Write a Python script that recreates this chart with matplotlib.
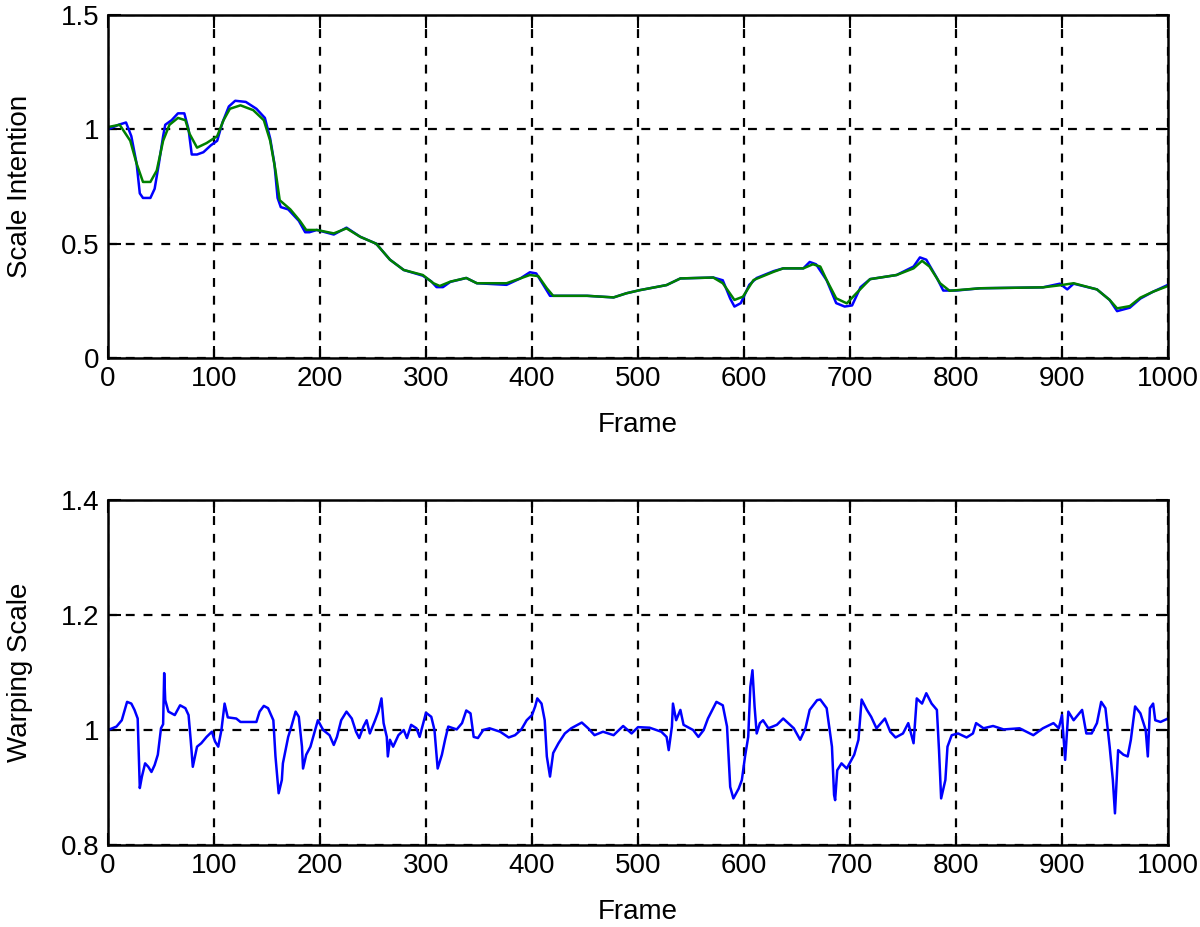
import matplotlib.pyplot as plt
import numpy as np

plt.rcParams['font.family'] = ['Liberation Sans', 'DejaVu Sans']

# top panel: scale intention (green = smoothed, blue = raw)
green_f = [0, 11, 21, 27, 33, 40, 46, 52, 58, 66, 73, 77, 84, 93, 103, 109, 115, 125, 137, 147,
           153, 158, 162, 172, 181, 187, 197, 213, 225, 238, 253, 266, 279, 297, 307, 313, 323, 338,
           348, 376, 389, 398, 406, 414, 420, 452, 477, 489, 502, 527, 540, 571, 580, 591, 599, 609,
           628, 637, 656, 665, 672, 678, 687, 697, 706, 719, 744, 760, 768, 775, 785, 794, 823, 882,
           898, 911, 933, 945, 952, 964, 974, 986, 1000]
green_v = [1.01, 1.02, 0.95, 0.85, 0.77, 0.77, 0.82, 0.95, 1.02, 1.05, 1.04, 0.98, 0.92, 0.94, 0.97,
           1.04, 1.09, 1.105, 1.084, 1.04, 0.95, 0.82, 0.69, 0.65, 0.60, 0.56, 0.56, 0.545, 0.567,
           0.53, 0.50, 0.43, 0.385, 0.363, 0.327, 0.315, 0.334, 0.35, 0.327, 0.327, 0.348, 0.363,
           0.358, 0.305, 0.272, 0.272, 0.265, 0.283, 0.297, 0.319, 0.348, 0.352, 0.327, 0.254, 0.268,
           0.341, 0.377, 0.392, 0.392, 0.41, 0.40, 0.341, 0.261, 0.239, 0.283, 0.345, 0.363, 0.392,
           0.425, 0.40, 0.327, 0.294, 0.305, 0.309, 0.318, 0.327, 0.30, 0.254, 0.217, 0.227, 0.264,
           0.29, 0.315]

blue_f = [0, 10, 17, 22, 27, 30, 33, 40, 44, 48, 52, 54, 60, 66, 72, 76, 79, 84, 90, 97, 103, 108,
          114, 120, 130, 140, 148, 153, 157, 160, 163, 170, 180, 186, 190, 197, 213, 225, 238, 253,
          266, 279, 297, 305, 310, 316, 323, 338, 348, 376, 389, 398, 404, 412, 417, 452, 477, 489,
          502, 527, 540, 571, 580, 587, 591, 597, 605, 612, 628, 637, 656, 662, 668, 678, 687, 695,
          702, 710, 719, 744, 760, 766, 772, 782, 788, 800, 823, 882, 898, 905, 911, 933, 945, 952,
          964, 974, 986, 1000]
blue_v = [1.0, 1.02, 1.03, 0.97, 0.85, 0.72, 0.70, 0.70, 0.74, 0.85, 0.97, 1.02, 1.04, 1.07, 1.07,
          1.0, 0.89, 0.89, 0.90, 0.93, 0.95, 1.03, 1.10, 1.125, 1.12, 1.09, 1.05, 0.96, 0.85, 0.70,
          0.66, 0.65, 0.60, 0.55, 0.55, 0.56, 0.54, 0.57, 0.53, 0.50, 0.43, 0.385, 0.36, 0.335,
          0.31, 0.31, 0.333, 0.35, 0.327, 0.32, 0.348, 0.375, 0.37, 0.31, 0.272, 0.272, 0.265, 0.283,
          0.297, 0.319, 0.348, 0.352, 0.34, 0.26, 0.225, 0.24, 0.32, 0.35, 0.38, 0.392, 0.392, 0.42,
          0.41, 0.34, 0.24, 0.225, 0.23, 0.31, 0.345, 0.363, 0.40, 0.44, 0.43, 0.35, 0.295, 0.295,
          0.305, 0.309, 0.325, 0.30, 0.325, 0.30, 0.254, 0.205, 0.22, 0.26, 0.29, 0.32]

# bottom panel: warping scale
warp_f = [0, 8, 13, 18, 22, 25, 28, 30, 32, 35, 38, 41, 44, 47, 50, 52, 53, 54, 57, 63, 68, 73, 76,
          78, 80, 84, 88, 93, 98, 101, 104, 107, 110, 113, 121, 125, 140, 143, 147, 151, 156, 158,
          161, 164, 165, 170, 173, 177, 180, 183, 184, 187, 191, 194, 198, 203, 209, 213, 216, 220,
          225, 230, 234, 237, 241, 244, 247, 252, 255, 258, 260, 263, 264, 266, 269, 274, 279, 282,
          286, 291, 294, 300, 305, 308, 311, 315, 318, 321, 329, 334, 338, 342, 345, 349, 354, 360,
          370, 378, 384, 390, 395, 400, 403, 405, 409, 412, 414, 417, 420, 425, 431, 437, 447, 453,
          459, 467, 477, 486, 494, 500, 511, 522, 527, 529, 532, 533, 536, 540, 543, 552, 557, 562,
          566, 574, 580, 584, 587, 590, 595, 598, 601, 604, 606, 608, 610, 612, 615, 618, 623, 631,
          637, 647, 653, 658, 662, 669, 672, 678, 683, 685, 686, 688, 692, 697, 704, 708, 711, 716,
          720, 725, 733, 738, 743, 750, 755, 760, 763, 768, 772, 777, 782, 784, 786, 790, 792, 796,
          802, 810, 816, 819, 826, 835, 845, 860, 873, 882, 892, 897, 900, 903, 906, 911, 919, 923,
          928, 933, 937, 941, 945, 948, 950, 953, 958, 962, 965, 969, 974, 979, 981, 983, 986, 988,
          993, 1000]
warp_v = [1.0, 1.006, 1.017, 1.049, 1.046, 1.035, 1.02, 0.899, 0.919, 0.942, 0.936, 0.927, 0.939,
          0.957, 1.003, 1.01, 1.099, 1.052, 1.032, 1.026, 1.043, 1.038, 1.026, 0.983, 0.936, 0.971,
          0.977, 0.988, 0.997, 0.98, 0.971, 1.0, 1.046, 1.022, 1.02, 1.014, 1.014, 1.032, 1.042,
          1.038, 1.017, 0.954, 0.89, 0.913, 0.942, 0.988, 1.006, 1.032, 1.023, 0.971, 0.933, 0.957,
          0.971, 0.991, 1.017, 1.0, 0.991, 0.974, 0.988, 1.017, 1.032, 1.02, 0.997, 0.986, 1.006,
          1.017, 0.994, 1.017, 1.032, 1.055, 1.012, 0.988, 0.954, 0.983, 0.971, 0.991, 1.0, 0.986,
          1.009, 1.003, 0.988, 1.03, 1.023, 1.0, 0.933, 0.957, 0.983, 1.006, 1.001, 1.012, 1.034,
          1.029, 0.988, 0.986, 1.0, 1.003, 0.997, 0.987, 0.991, 1.001, 1.017, 1.026, 1.041, 1.055,
          1.046, 1.017, 0.954, 0.919, 0.96, 0.977, 0.994, 1.003, 1.013, 1.003, 0.991, 0.997, 0.991,
          1.007, 0.994, 1.005, 1.004, 0.997, 0.988, 0.965, 1.006, 1.046, 1.017, 1.035, 1.009, 1.0,
          0.988, 1.0, 1.02, 1.049, 1.043, 1.006, 0.901, 0.881, 0.898, 0.913, 0.954, 0.988, 1.075,
          1.104, 1.041, 0.994, 1.012, 1.017, 1.003, 1.009, 1.02, 1.003, 0.983, 1.003, 1.035, 1.052,
          1.053, 1.038, 0.971, 0.887, 0.878, 0.93, 0.942, 0.933, 0.957, 0.983, 1.053, 1.035, 1.023,
          1.003, 1.02, 0.997, 0.987, 0.994, 1.012, 0.977, 1.055, 1.046, 1.064, 1.046, 1.035, 0.965,
          0.881, 0.913, 0.971, 0.991, 0.994, 0.987, 0.994, 1.012, 1.003, 1.007, 1.001, 1.003, 0.991,
          1.003, 1.012, 1.003, 1.026, 0.948, 1.032, 1.017, 1.035, 0.994, 0.994, 1.012, 1.049, 1.038,
          0.971, 0.913, 0.855, 0.965, 0.957, 0.954, 0.983, 1.041, 1.029, 1.0, 0.954, 1.038, 1.046,
          1.017, 1.014, 1.02]

fig = plt.figure(figsize=(12, 9.27), dpi=100)
ax1 = fig.add_axes([0.09, 0.6138, 0.8833, 0.37])
ax2 = fig.add_axes([0.09, 0.0885, 0.8833, 0.372])

ax1.plot(blue_f, blue_v, color='#0000ff', lw=1.8)
ax1.plot(green_f, green_v, color='#008000', lw=1.8)
ax2.plot(warp_f, warp_v, color='#0000ff', lw=1.8)

ax1.set_ylim(0, 1.5)
ax1.set_yticks([0, 0.5, 1, 1.5])
ax1.set_yticklabels(['0', '0.5', '1', '1.5'])
ax1.set_ylabel('Scale Intention', fontsize=20, labelpad=20)
ax2.set_ylim(0.8, 1.4)
ax2.set_yticks([0.8, 1.0, 1.2, 1.4])
ax2.set_yticklabels(['0.8', '1', '1.2', '1.4'])
ax2.set_ylabel('Warping Scale', fontsize=20, labelpad=20)

for ax in (ax1, ax2):
    ax.set_xlim(0, 1000)
    ax.set_xticks(np.arange(0, 1001, 100))
    ax.set_xlabel('Frame', fontsize=20, labelpad=14)
    ax.grid(True, color='black', linestyle=(0, (4, 4)), linewidth=1.6)
    ax.tick_params(direction='in', length=9, width=1.5, labelsize=20, top=True, right=True, pad=6)
    for s in ax.spines.values():
        s.set_linewidth(1.8)

fig.savefig('out.png', dpi=100)
